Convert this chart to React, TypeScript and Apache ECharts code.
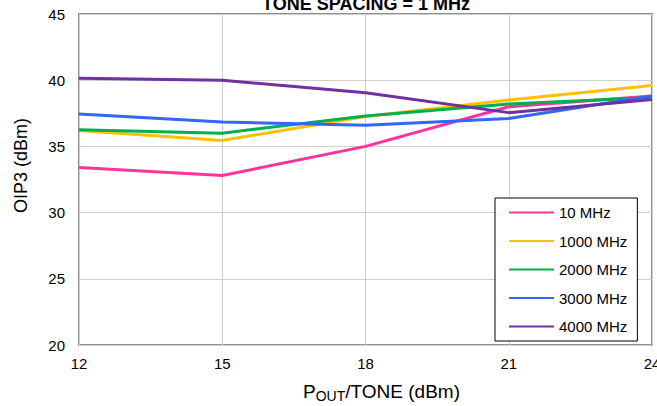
import React, { useEffect, useRef } from "react";
import * as echarts from "echarts";

const xValues = [12, 15, 18, 21, 24];
const seriesNames = ["10 MHz", "1000 MHz", "2000 MHz", "3000 MHz", "4000 MHz"];
const s10 = [33.4, 32.8, 35.0, 38.0, 38.8];
const s1000 = [36.2, 35.45, 37.25, 38.5, 39.6];
const s2000 = [36.25, 36.0, 37.3, 38.2, 38.7];
const s3000 = [37.45, 36.85, 36.6, 37.1, 38.8];
const s4000 = [40.15, 40.0, 39.05, 37.55, 38.55];
const colors = ["#ff3399", "#ffc000", "#00b050", "#3366ff", "#7030a0"];
const allSeries = [s10, s1000, s2000, s3000, s4000];

const FONT = "Arial, 'Liberation Sans', sans-serif";

export default function App() {
  const ref = useRef<HTMLDivElement>(null);
  useEffect(() => {
    if (!ref.current) return;
    const chart = echarts.init(ref.current, null, { renderer: "svg" });
    chart.setOption({
      animation: false,
      textStyle: { fontFamily: FONT },
      title: {
        text: "TONE SPACING = 1 MHz",
        left: 361,
        textAlign: "center",
        top: -10,
        textStyle: { fontSize: 18, fontWeight: "bold", color: "#000", fontFamily: FONT },
      },
      grid: {
        left: 79, right: 5, top: 14, bottom: 61,
        outerBoundsMode: "none",
        containLabel: false,
        show: true, borderColor: "#909090", borderWidth: 2, backgroundColor: "#fff",
      },
      legend: {
        orient: "vertical",
        left: 495,
        top: 198,
        width: 149,
        backgroundColor: "#fff",
        borderColor: "#000",
        borderWidth: 1,
        padding: [7, 10, 7, 13],
        itemWidth: 45,
        itemHeight: 15,
        itemGap: 13.5,
        itemStyle: { opacity: 0 },
        data: seriesNames,
        textStyle: { fontSize: 15, color: "#000", fontFamily: FONT },
      },
      xAxis: {
        type: "value",
        min: 12,
        max: 24,
        interval: 3,
        name: "P{sub|OUT}/TONE (dBm)",
        nameLocation: "middle",
        nameGap: 34,
        nameTextStyle: {
          fontSize: 19, color: "#000", fontFamily: FONT, padding: [0, 0, 0, 32],
          rich: { sub: { fontSize: 14, verticalAlign: "bottom", padding: [10, 0, 0, 0], color: "#000", fontFamily: FONT } },
        },
        axisLine: { show: false },
        axisTick: { show: false },
        axisLabel: { fontSize: 15, color: "#000", margin: 11, fontFamily: FONT },
        splitLine: { show: true, lineStyle: { color: "#cfcfcf", width: 1 } },
      },
      yAxis: {
        type: "value",
        min: 20,
        max: 45,
        interval: 5,
        name: "OIP3 (dBm)",
        nameLocation: "middle",
        nameGap: 49,
        nameTextStyle: { fontSize: 18, color: "#000", fontFamily: FONT, padding: [0, 0, 0, 28] },
        axisLine: { show: false },
        axisTick: { show: false },
        axisLabel: { fontSize: 15, color: "#000", margin: 14, fontFamily: FONT },
        splitLine: { show: true, lineStyle: { color: "#cfcfcf", width: 1 } },
      },
      series: allSeries.map((vals, i) => ({
        name: seriesNames[i],
        type: "line",
        symbol: "none",
        data: vals.map((v, j) => [xValues[j], v]),
        lineStyle: { color: colors[i], width: 3 },
        itemStyle: { color: colors[i] },
      })),
    });
    return () => chart.dispose();
  }, []);
  return <div ref={ref} style={{ width: 657, height: 406, position: "absolute", left: 0, top: 0 }} />;
}
